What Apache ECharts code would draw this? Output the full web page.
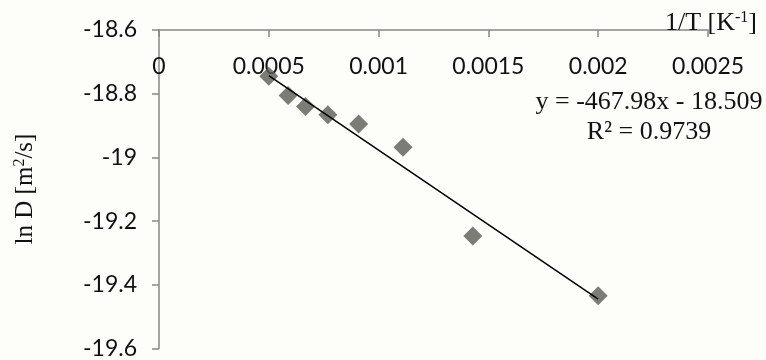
<!DOCTYPE html>
<html>
<head>
<meta charset="utf-8">
<script src="https://cdn.jsdelivr.net/npm/echarts@6/dist/echarts.min.js"></script>
<style>
  html, body { margin: 0; padding: 0; background: #fdfdf9; }
  #chart { width: 766px; height: 360px; }
</style>
</head>
<body>
<div id="chart"></div>
<script>
// 1/T [K^-1] and ln D [m2/s]
const invT = [0.0005, 0.000588, 0.000667, 0.000769, 0.000909, 0.001111, 0.001429, 0.002];
const lnD = [-18.745, -18.806, -18.840, -18.866, -18.895, -18.968, -19.247, -19.434];

// linear trend line ends (y = -467.98x - 18.509)
const trendX = [0.0005, 0.002];
const trendY = [-18.743, -19.445];

const xTicks = ['0', '0.0005', '0.001', '0.0015', '0.002', '0.0025'];

const chart = echarts.init(document.getElementById('chart'));

const axisGray = '#868686';
const tickFont = 'Lato, "Open Sans", sans-serif';
const serif = '"Liberation Serif", "DejaVu Serif", serif';
const supStyle = { font: '16px ' + serif, fill: '#111', verticalAlign: 'top', padding: [0, 0, 10, 0] };

chart.setOption({
  backgroundColor: '#fdfdf9',
  animation: false,
  grid: { left: 159, top: 30, right: 58, bottom: 10 },
  xAxis: {
    type: 'value',
    position: 'top',
    min: 0,
    max: 0.0025,
    interval: 0.0005,
    axisLine: { show: true, onZero: false, lineStyle: { color: axisGray, width: 1.5 } },
    axisTick: { show: true, inside: true, length: 7, lineStyle: { color: axisGray, width: 1.5 } },
    axisLabel: {
      inside: true,
      margin: 25,
      fontFamily: tickFont,
      fontSize: 23,
      color: '#111',
      formatter: (v) => xTicks[Math.round(v / 0.0005)]
    },
    splitLine: { show: false }
  },
  yAxis: {
    type: 'value',
    min: -19.6,
    max: -18.6,
    interval: 0.2,
    axisLine: { show: true, onZero: false, lineStyle: { color: axisGray, width: 1.5 } },
    axisTick: { show: true, length: 7, lineStyle: { color: axisGray, width: 1.5 } },
    axisLabel: {
      margin: 22,
      fontFamily: tickFont,
      fontSize: 23,
      color: '#111',
      formatter: (v) => v.toFixed(1).replace(/\.0$/, '')
    },
    splitLine: { show: false }
  },
  series: [
    {
      type: 'line',
      data: trendX.map((x, i) => [x, trendY[i]]),
      symbol: 'none',
      lineStyle: { color: '#000', width: 1.5 },
      z: 3
    },
    {
      type: 'scatter',
      data: invT.map((x, i) => [x, lnD[i]]),
      symbol: 'diamond',
      symbolSize: 19,
      itemStyle: { color: '#5a5b55' },
      z: 2
    }
  ],
  graphic: [
    {
      type: 'text',
      x: 757,
      y: 23,
      z: 10,
      style: {
        text: '1/T [K{s|-1}]',
        font: '26px ' + serif,
        fill: '#111',
        textAlign: 'right',
        textVerticalAlign: 'middle',
        rich: { s: supStyle }
      }
    },
    {
      type: 'text',
      x: 649,
      y: 102,
      style: {
        text: 'y = -467.98x - 18.509',
        font: '26px ' + serif,
        fill: '#111',
        textAlign: 'center',
        textVerticalAlign: 'middle'
      }
    },
    {
      type: 'text',
      x: 649,
      y: 132,
      style: {
        text: 'R² = 0.9739',
        font: '26px ' + serif,
        fill: '#111',
        textAlign: 'center',
        textVerticalAlign: 'middle'
      }
    },
    {
      type: 'text',
      x: 25,
      y: 189,
      rotation: Math.PI / 2,
      style: {
        text: 'ln D [m{s|2}/s]',
        font: '25px ' + serif,
        fill: '#111',
        textAlign: 'center',
        textVerticalAlign: 'middle',
        rich: { s: supStyle }
      }
    }
  ]
});
</script>
</body>
</html>
